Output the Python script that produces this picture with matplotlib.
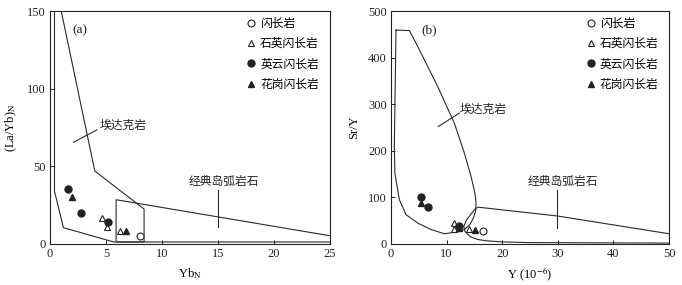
import matplotlib
matplotlib.use("Agg")
import matplotlib.pyplot as plt
from matplotlib.lines import Line2D

plt.rcParams['font.family'] = ['Liberation Serif', 'Noto Sans CJK SC']
plt.rcParams['mathtext.fontset'] = 'stix'

# ---------------- data: panel (a) ----------------
a_diorite_x = [8.0]
a_diorite_y = [5.2]
a_qdiorite_x = [4.6, 5.05, 6.25]
a_qdiorite_y = [16.8, 11.0, 8.2]
a_tonalite_x = [1.6, 2.75, 5.15]
a_tonalite_y = [35.5, 19.8, 14.3]
a_granodiorite_x = [1.95, 6.8]
a_granodiorite_y = [30.0, 8.2]

a_adakite_x = [1.0, 4.0, 8.4, 8.4, 5.7, 1.2, 0.4, 0.4]
a_adakite_y = [150, 47, 22.5, 1.3, 1.3, 10.5, 34, 150]
a_arc_x = [25, 5.9, 5.9, 25]
a_arc_y = [5.3, 28.5, 1.3, 1.3]

# ---------------- data: panel (b) ----------------
b_diorite_x = [16.5]
b_diorite_y = [28]
b_qdiorite_x = [11.4, 11.3, 14.0]
b_qdiorite_y = [46, 33, 33]
b_tonalite_x = [5.35, 6.65, 12.2]
b_tonalite_y = [101, 79, 39]
b_granodiorite_x = [5.35, 12.3, 15.1]
b_granodiorite_y = [89, 35, 29.5]

b_adakite_x = [0.9, 3.3, 4.8, 8.4, 11.4, 13.2, 14.4, 15.1, 15.3, 15.2, 14.8, 14.2,
               13.2, 12.0, 9.6, 7.2, 4.8, 2.7, 1.5, 0.7, 0.6, 0.9]
b_adakite_y = [459, 458, 424, 338, 259, 195, 145, 109, 88, 70, 55, 42,
               31, 26, 22, 31, 45, 63, 95, 152, 209, 459]
b_arc_x = [50, 30, 15.7, 15.2, 14.5, 13.6, 13.1, 13.3, 14.2, 15.5, 17.0, 20.0, 25.0, 50]
b_arc_y = [22, 60, 79, 76, 66, 52, 38, 27, 16, 10, 7, 4.5, 3, 2]

legend_labels = ['闪长岩', '石英闪长岩', '英云闪长岩', '花岗闪长岩']
cjk = ['Noto Sans CJK SC', 'DejaVu Sans']

line_kw = dict(color='#2a2a2a', lw=0.8)
ms = 5


def draw_points(ax, d, q, t, g):
    ax.plot(d[0], d[1], 'o', mfc='white', mec='#222', mew=0.8, ms=ms, ls='none')
    ax.plot(q[0], q[1], '^', mfc='white', mec='#222', mew=0.8, ms=ms, ls='none')
    ax.plot(t[0], t[1], 'o', mfc='#222', mec='#222', ms=ms, ls='none')
    ax.plot(g[0], g[1], '^', mfc='#222', mec='#222', ms=ms, ls='none')


def add_legend(ax):
    handles = [
        Line2D([], [], marker='o', mfc='white', mec='#222', mew=0.8, ms=ms, ls='none'),
        Line2D([], [], marker='^', mfc='white', mec='#222', mew=0.8, ms=ms, ls='none'),
        Line2D([], [], marker='o', mfc='#222', mec='#222', ms=ms, ls='none'),
        Line2D([], [], marker='^', mfc='#222', mec='#222', ms=ms, ls='none'),
    ]
    ax.legend(handles, legend_labels, loc='upper left', bbox_to_anchor=(0.685, 0.995),
              frameon=False, handlelength=0.8, handletextpad=0.35, labelspacing=0.62,
              borderaxespad=0, prop={'family': cjk, 'size': 8.5})


def style(ax):
    for s in ax.spines.values():
        s.set_linewidth(0.8)
        s.set_color('#222')
    ax.tick_params(direction='in', length=3, width=0.7, labelsize=9, colors='#222', pad=3)


fig = plt.figure(figsize=(6.82, 2.85), dpi=100)
axa = fig.add_axes([50/682, 41/285, 280/682, 233/285])
axb = fig.add_axes([391/682, 41/285, 278/682, 233/285])

# panel (a)
axa.plot(a_adakite_x, a_adakite_y, **line_kw)
axa.plot(a_arc_x, a_arc_y, **line_kw)
draw_points(axa, (a_diorite_x, a_diorite_y), (a_qdiorite_x, a_qdiorite_y),
            (a_tonalite_x, a_tonalite_y), (a_granodiorite_x, a_granodiorite_y))
axa.plot([2.1, 4.2], [65.5, 73.5], **line_kw)
axa.text(4.45, 76.5, '埃达克岩', family=cjk, fontsize=8.5, va='center', ha='left', color='#222')
axa.plot([15.0, 15.0], [11, 35], **line_kw)
axa.text(12.4, 40, '经典岛弧岩石', family=cjk, fontsize=8.5, va='center', ha='left', color='#222')
axa.text(2.0, 137.5, '(a)', fontsize=9.5, va='center', ha='left', color='#222')
axa.set_xlim(0, 25)
axa.set_ylim(0, 150)
axa.set_xticks([0, 5, 10, 15, 20, 25])
axa.set_yticks([0, 50, 100, 150])
axa.set_xlabel('Yb$_\\mathrm{N}$', fontsize=9, labelpad=4)
axa.set_ylabel('(La/Yb)$_\\mathrm{N}$', fontsize=9, labelpad=6)
add_legend(axa)
style(axa)

# panel (b)
axb.plot(b_adakite_x, b_adakite_y, **line_kw)
axb.plot(b_arc_x, b_arc_y, **line_kw)
draw_points(axb, (b_diorite_x, b_diorite_y), (b_qdiorite_x, b_qdiorite_y),
            (b_tonalite_x, b_tonalite_y), (b_granodiorite_x, b_granodiorite_y))
axb.plot([8.5, 12.3], [252, 281], **line_kw)
axb.text(12.3, 290, '埃达克岩', family=cjk, fontsize=8.5, va='center', ha='left', color='#222')
axb.plot([29.9, 29.9], [34, 116], **line_kw)
axb.text(24.5, 134, '经典岛弧岩石', family=cjk, fontsize=8.5, va='center', ha='left', color='#222')
axb.text(5.5, 458, '(b)', fontsize=9.5, va='center', ha='left', color='#222')
axb.set_xlim(0, 50)
axb.set_ylim(0, 500)
axb.set_xticks([0, 10, 20, 30, 40, 50])
axb.set_yticks([0, 100, 200, 300, 400, 500])
axb.set_xlabel('Y (10$^{-6}$)', fontsize=9, labelpad=4)
axb.set_ylabel('Sr/Y', fontsize=9, labelpad=6)
add_legend(axb)
style(axb)

fig.savefig('out.png', dpi=100)
